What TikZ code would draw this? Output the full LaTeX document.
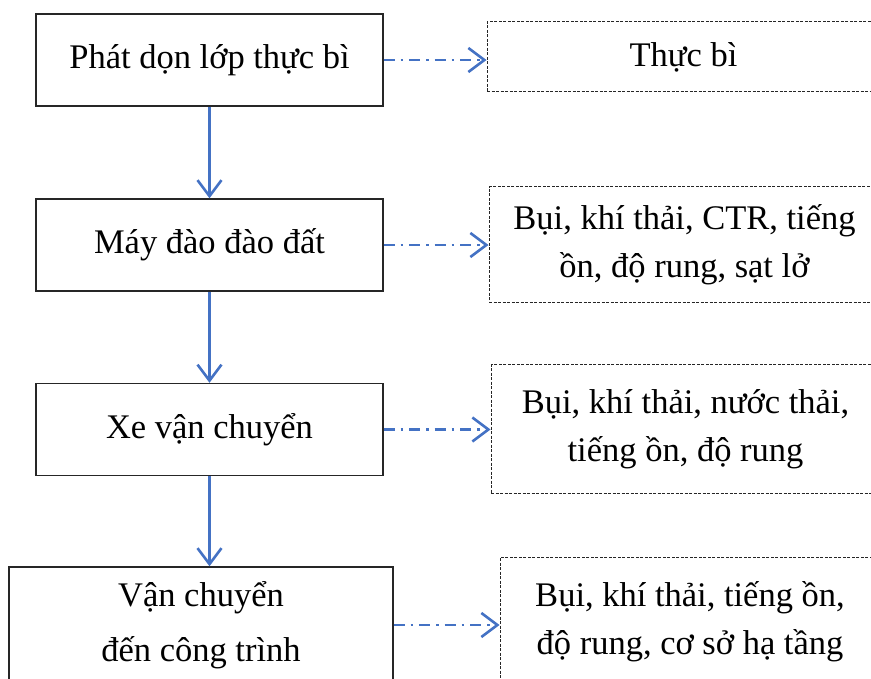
\documentclass[tikz,border=0pt]{standalone}
\usepackage{fontspec}
\setmainfont{Liberation Serif}
\usepackage{tikz}
\usetikzlibrary{arrows.meta}
\usetikzlibrary{calc}

\definecolor{xanh}{RGB}{68,114,196}

\begin{document}
\begin{tikzpicture}[x=1pt,y=-1pt,
    buoc/.style={draw=black!85, line width=1.4pt, align=center, inner sep=0pt,
        minimum width=347pt, minimum height=92pt, font=\fontsize{34.5}{55}\selectfont},
    tacdong/.style={draw=black!85, line width=1pt, dash pattern=on 3pt off 1.5pt,
        align=center, inner sep=0pt, font=\fontsize{34.5}{48}\selectfont},
    tiep/.style={draw=xanh, line width=2.6pt, -{Straight Barb[length=16pt,width=24pt,line width=2.6pt]}},
    thai/.style={draw=xanh, line width=2.6pt, dash pattern=on 11pt off 6pt on 2.5pt off 6pt,
        -{Straight Barb[length=16pt,width=24pt,line width=2.6pt]}}]
    \path[use as bounding box, clip] (0,0) rectangle (871,679);

    \node[buoc] (phat) at (209.5,60) {Phát dọn lớp thực bì};
    \node[buoc] (dao) at (209.5,245) {Máy đào đào đất};
    \node[buoc] (xe) at (209.5,429.5) {Xe vận chuyển};
    \node[buoc, minimum width=384pt, minimum height=116pt] (den) at (201,625) {Vận chuyển\\đến công trình};

    \node[tacdong, minimum width=393pt, minimum height=70pt] (r1) at (683.5,57) {Thực bì};
    \node[tacdong, minimum width=391pt, minimum height=116pt] (r2) at (684.5,245) {Bụi, khí thải, CTR, tiếng\\ồn, độ rung, sạt lở};
    \node[tacdong, minimum width=389pt, minimum height=128pt] (r3) at (685.5,429) {Bụi, khí thải, nước thải,\\tiếng ồn, độ rung};
    \node[tacdong, minimum width=380pt, minimum height=130pt] (r4) at (690,622) {Bụi, khí thải, tiếng ồn,\\độ rung, cơ sở hạ tầng};

    \draw[tiep] (phat) -- (dao);
    \draw[tiep] (dao) -- (xe);
    \draw[tiep] (xe.south) -- (xe.south |- den.north);

    \draw[thai] (phat.east) -- (phat.east -| r1.west);
    \draw[thai] (dao.east) -- (dao.east -| r2.west);
    \draw[thai] (xe.east) -- (xe.east -| r3.west);
    \draw[thai] (den.east) -- (den.east -| r4.west);
\end{tikzpicture}
\end{document}
